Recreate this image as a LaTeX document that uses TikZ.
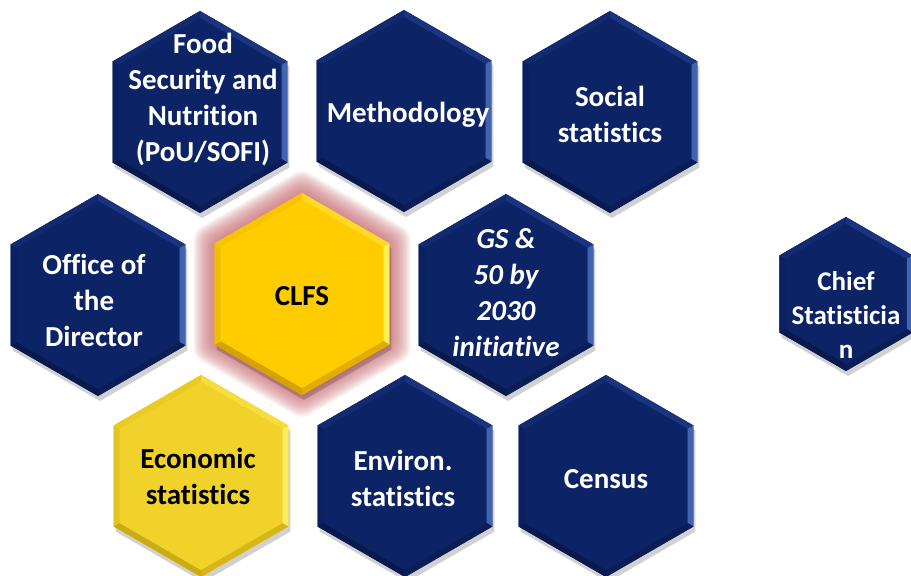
\documentclass[tikz,border=0pt]{standalone}
\usepackage[RGB]{xcolor}
\usepackage{tikz}
\usepackage{fontspec}
\setmainfont{Carlito}[Ligatures={NoCommon,NoContextual},Contextuals=NoAlternate]
\definecolor{navy}{RGB}{12,35,102}
\definecolor{navytl}{RGB}{17,42,112}
\definecolor{navytr}{RGB}{26,52,128}
\definecolor{navyr}{RGB}{66,98,178}
\definecolor{navybr}{RGB}{10,29,86}
\definecolor{navybl}{RGB}{8,25,78}
\definecolor{navyl}{RGB}{11,32,96}
\definecolor{gold}{RGB}{255,204,0}
\definecolor{goldtl}{RGB}{248,196,0}
\definecolor{goldtr}{RGB}{255,216,40}
\definecolor{goldr}{RGB}{255,238,84}
\definecolor{goldbr}{RGB}{226,172,0}
\definecolor{goldbl}{RGB}{214,162,0}
\definecolor{goldl}{RGB}{238,188,0}
\definecolor{lemon}{RGB}{240,210,42}
\definecolor{lemontl}{RGB}{234,202,36}
\definecolor{lemontr}{RGB}{246,220,60}
\definecolor{lemonr}{RGB}{252,236,100}
\definecolor{lemonbr}{RGB}{214,182,24}
\definecolor{lemonbl}{RGB}{204,172,20}
\definecolor{lemonl}{RGB}{226,196,32}
\definecolor{glow}{RGB}{196,100,106}
\newcommand{\hexpath}[1]{(90:#1)--(30:#1)--(-30:#1)--(-90:#1)--(-150:#1)--(150:#1)--cycle}
% centre x, centre y, radius, colour
\newcommand{\drawhex}[4]{
  \begin{scope}[shift={(#1,#2)}]
    \pgfmathsetmacro{\rin}{#3-7}
    \begin{scope}[shift={(2,-5)}]\fill[black,opacity=.18] \hexpath{#3};\end{scope}
    \fill[#4] \hexpath{#3};
    \foreach \a/\b/\s in {90/30/tr,30/-30/r,-30/-90/br,-90/-150/bl,-150/150/l,150/90/tl}{
      \fill[fill=#4\s] (\a:#3)--(\b:#3)--(\b:\rin)--(\a:\rin)--cycle;
    }
    \fill[#4] \hexpath{\rin};
  \end{scope}
}
\newcommand{\drawglow}[2]{
  \begin{scope}[shift={(#1,#2)}]
    \foreach \g in {24,22,...,2}{
      \pgfmathsetmacro{\rg}{101+\g}
      \fill[glow,opacity=.1,rounded corners=8pt] \hexpath{\rg};
    }
  \end{scope}
}
\tikzset{
  hextext/.style={text=white, align=center, inner sep=0pt, font=\fontsize{29}{36}\selectfont\bfseries},
  goldtext/.style={hextext, text=black}
}

\begin{document}
\begin{tikzpicture}[x=1pt,y=1pt]
\useasboundingbox (0,0) rectangle (911,576);
\drawhex{98}{281}{101}{navy}
\drawglow{302}{282}
\drawhex{200}{464}{101}{navy}\drawhex{404}{465}{101}{navy}\drawhex{610}{464}{101}{navy}
\drawhex{302}{282}{101}{gold}\drawhex{506}{281}{101}{navy}\drawhex{846}{282}{77}{navy}
\drawhex{201}{100}{101}{lemon}\drawhex{405}{100}{101}{navy}\drawhex{606}{100}{101}{navy}
\node[hextext] (food) at (203,476) {Food\\Security and\\Nutrition\\(PoU/SOFI)};
\node[hextext] (method) at (408,461) {Methodology};
\node[hextext] (social) at (610,462) {Social\\statistics};
\node[hextext] (office) at (94,276) {Office of\\the\\Director};
\node[goldtext] (clfs) at (302,280) {CLFS};
\node[hextext] (gs) at (506,283) {\itshape GS \&\\\itshape 50 by\\\itshape 2030\\\itshape initiative};
\node[hextext, font=\fontsize{27}{34}\selectfont\bfseries] (chief) at (846,261) {Chief\\Statisticia\\n};
\node[goldtext] (econ) at (198,100) {Economic\\statistics};
\node[hextext] (environ) at (403,98) {Environ.\\statistics};
\node[hextext] (census) at (606,97) {Census};
\end{tikzpicture}
\end{document}
